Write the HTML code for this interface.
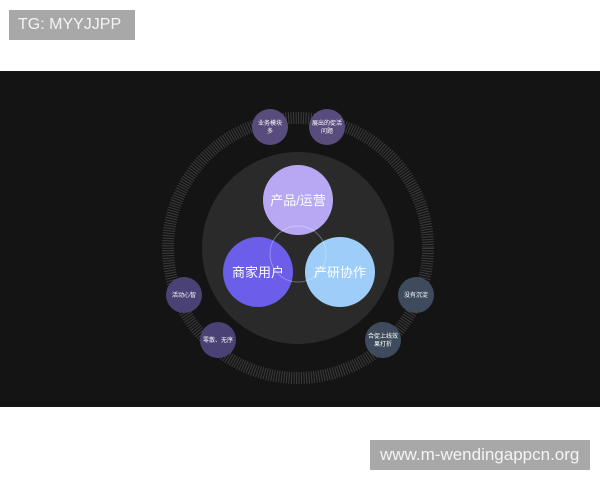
<!DOCTYPE html>
<html><head><meta charset="utf-8"><style>
html,body{margin:0;padding:0;width:600px;height:480px;background:#fff;overflow:hidden;font-family:"Liberation Sans","Noto Sans CJK SC",sans-serif}
.lbl{position:absolute;background:#a8a8a8;color:#f4f4f4;font-size:16px;line-height:30px;box-sizing:border-box;white-space:nowrap}
</style></head><body>
<div class="lbl" style="left:9px;top:10px;width:126px;height:30px;padding-left:9px">TG: MYYJJPP</div>
<svg width="600" height="480" style="position:absolute;left:0;top:0;z-index:0" xmlns="http://www.w3.org/2000/svg" font-family="Liberation Sans, Noto Sans CJK SC, sans-serif">
<rect x="0" y="71" width="600" height="336" fill="#141414"/>
<circle cx="298" cy="248" r="130" fill="none" stroke="#3c3c3c" stroke-width="12" stroke-dasharray="1 1.5"/>
<circle cx="298" cy="248" r="96" fill="#2a2a2a"/>
<circle cx="298" cy="200" r="35" fill="#b8a8f4"/>
<circle cx="258" cy="272" r="35" fill="#6b5ee8"/>
<circle cx="340" cy="272" r="35" fill="#9dcdf8"/>
<circle cx="298" cy="254" r="28" fill="none" stroke="#ffffff" stroke-opacity="0.3" stroke-width="1"/>
<g fill="#fff" font-size="13" text-anchor="middle">
<text x="298" y="205">产品/运营</text>
<text x="258" y="277">商家用户</text>
<text x="340" y="277">产研协作</text>
</g>
<circle cx="270" cy="127" r="18" fill="#584c7c"/>
<circle cx="327" cy="127" r="18" fill="#584c7c"/>
<circle cx="184" cy="295" r="18" fill="#4a4274"/>
<circle cx="218" cy="340" r="18" fill="#4a4274"/>
<circle cx="416" cy="295" r="18" fill="#3d4b5c"/>
<circle cx="383" cy="340" r="18" fill="#3d4b5c"/>
<g fill="#fff" font-size="6" text-anchor="middle">
<text x="270" y="125">业务模块</text><text x="270" y="133">多</text>
<text x="327" y="125">展出的促活</text><text x="327" y="133">问题</text>
<text x="184" y="297">活动心智</text>
<text x="218" y="342">零散、无序</text>
<text x="416" y="297">没有沉淀</text>
<text x="383" y="338">合促上线效</text><text x="383" y="346">果打折</text>
</g>
</svg>
<div class="lbl" style="left:370px;top:440px;width:220px;height:30px;padding-left:10px;font-size:17px;z-index:1">www.m-wendingappcn.org</div>
</body></html>
